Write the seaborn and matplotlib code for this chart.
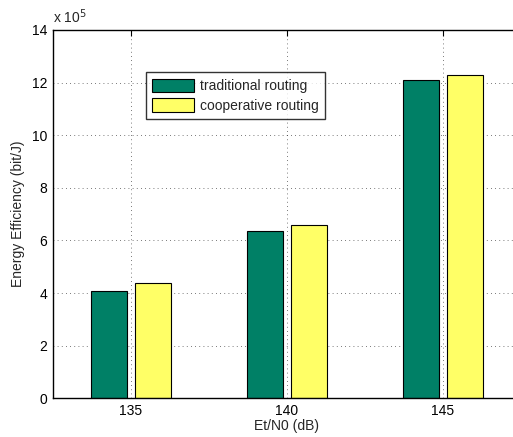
#Energy efficiency of traditional vs cooperative routing
import numpy as np
import pandas as pd
import matplotlib
matplotlib.use("Agg")
import matplotlib.pyplot as plt
import seaborn as sns

#data (units of 1e5 bit/J)
snr_db = ["135", "140", "145"]
traditional = [4.09, 6.37, 12.10]
cooperative = [4.40, 6.59, 12.30]
series_names = ["traditional routing", "cooperative routing"]
scale_exp = 5

df = pd.DataFrame({
    "snr": snr_db * 2,
    "eff": traditional + cooperative,
    "routing": [series_names[0]] * 3 + [series_names[1]] * 3,
})

sns.set_style("white")
plt.rcParams['font.family'] = ['Liberation Sans', 'DejaVu Sans']
plt.rcParams['font.size'] = 10

fig = plt.figure(figsize=(5.13, 4.37), dpi=100)
ax = fig.add_axes([0.1033, 0.0886, 0.912, 0.8428])

sns.barplot(data=df, x="snr", y="eff", hue="routing",
            palette=["#008066", "#FFFF66"], width=0.56, gap=0.18,
            edgecolor="black", linewidth=0.8, saturation=1, ax=ax)

ax.set_xlim(-0.5, 2.5)
ax.set_ylim(0, 14)
ax.set_yticks(np.arange(0, 15, 2))
ax.set_yticklabels([str(v) for v in range(0, 15, 2)])
ax.set_xlabel("Et/N0 (dB)", fontsize=10, labelpad=1)
ax.set_ylabel("Energy Efficiency (bit/J)", fontsize=10, labelpad=5)
ax.tick_params(direction="in", length=4, width=0.8, top=True, right=False,
               labelsize=10, colors="black", pad=4)
ax.grid(True, linestyle=(0, (1, 4)), color="black", linewidth=0.6, alpha=0.7)
ax.set_axisbelow(True)
for s in ax.spines.values():
    s.set_color("black")
    s.set_linewidth(1.0)
# right edge of the plot box is cut off in the original
ax.spines["right"].set_visible(False)

ax.text(0.0, 1.012, r"x 10$^{%d}$" % scale_exp, transform=ax.transAxes,
        fontsize=10, ha="left", va="bottom")

leg = ax.legend(loc="upper left", bbox_to_anchor=(0.199, 0.885),
                borderaxespad=0, frameon=True, fancybox=False,
                edgecolor="black", fontsize=10, handlelength=3.0,
                handleheight=1.15, handletextpad=0.4, borderpad=0.45,
                labelspacing=0.35, title=None)
leg.get_frame().set_linewidth(1.0)

fig.savefig("out.png", dpi=100)
plt.close()
